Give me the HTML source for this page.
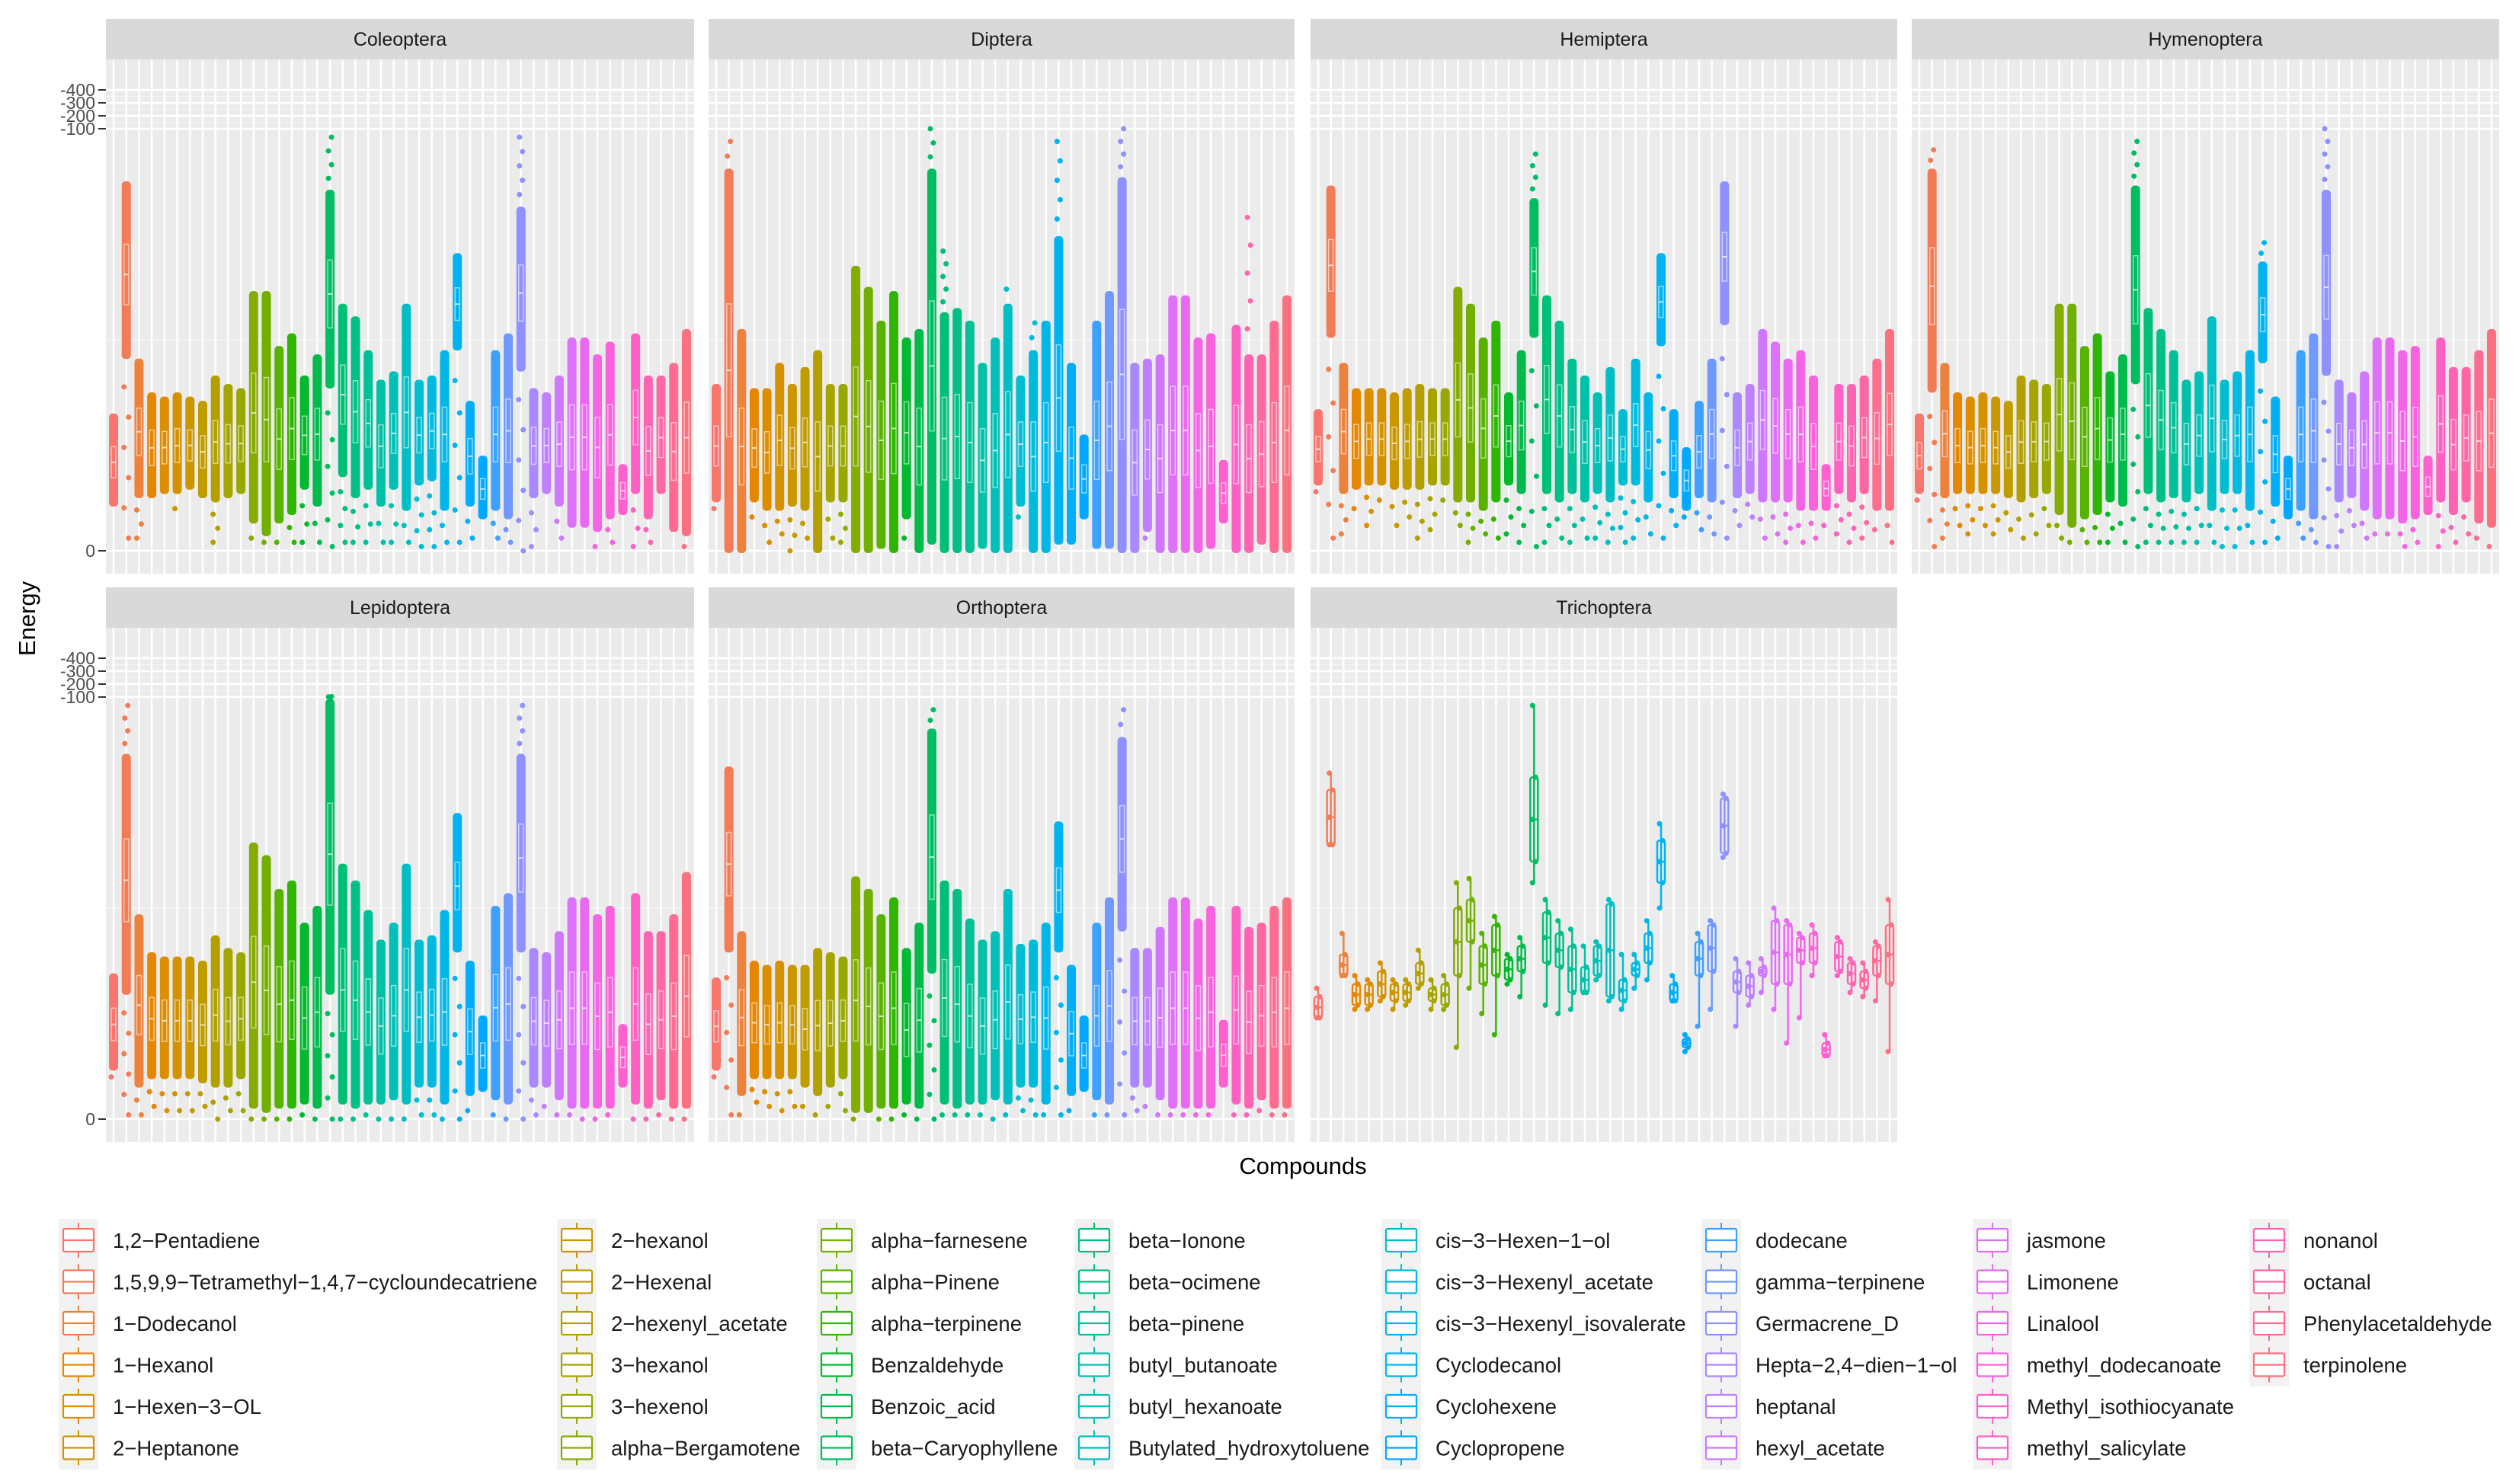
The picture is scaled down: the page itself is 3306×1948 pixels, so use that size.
<!DOCTYPE html>
<html><head><meta charset="utf-8"><style>
html,body{margin:0;padding:0;background:#fff;}
svg{display:block;font-family:"Liberation Sans",Arial,sans-serif;}
</style></head><body>
<svg id="chart" xmlns="http://www.w3.org/2000/svg" width="3306" height="1948" viewBox="0 0 3306 1948">
<rect width="3306" height="1948" fill="#ffffff"/>
<g id="panels"></g>
<g id="yaxes"></g>
<text x="0" y="0" transform="translate(46,812) rotate(-90)" text-anchor="middle" font-size="31" fill="#000">Energy</text>
<text x="1710" y="1541" text-anchor="middle" font-size="31" fill="#000">Compounds</text>
<g id="legend"></g>
</svg>
<script>
const compounds = ["1,2−Pentadiene","1,5,9,9−Tetramethyl−1,4,7−cycloundecatriene","1−Dodecanol","1−Hexanol","1−Hexen−3−OL","2−Heptanone",
"2−hexanol","2−Hexenal","2−hexenyl_acetate","3−hexanol","3−hexenol","alpha−Bergamotene",
"alpha−farnesene","alpha−Pinene","alpha−terpinene","Benzaldehyde","Benzoic_acid","beta−Caryophyllene",
"beta−Ionone","beta−ocimene","beta−pinene","butyl_butanoate","butyl_hexanoate","Butylated_hydroxytoluene",
"cis−3−Hexen−1−ol","cis−3−Hexenyl_acetate","cis−3−Hexenyl_isovalerate","Cyclodecanol","Cyclohexene","Cyclopropene",
"dodecane","gamma−terpinene","Germacrene_D","Hepta−2,4−dien−1−ol","heptanal","hexyl_acetate",
"jasmone","Limonene","Linalool","methyl_dodecanoate","Methyl_isothiocyanate","methyl_salicylate",
"nonanol","octanal","Phenylacetaldehyde","terpinolene"];
const yTicks = [400,300,200,100,0];
const yTickLabels = ["-400","-300","-200","-100","0"];

const coleopteraHi = [32,87,45,37,36,37,36,35,41,39,38,61,61,48,51,41,46,98,58,55,47,40,42,58,40,41,47,70,35,22,47,51,98,38,37,41,50,50,46,49,20,51,41,41,44,52];
const coleopteraTop = [32,87,45,37,36,37,36,35,41,39,38,61,61,48,51,41,46,85,58,55,47,40,42,58,40,41,47,70,35,22,47,51,81,38,37,41,50,50,46,49,20,51,41,41,44,52];
const coleopteraBot = [11,46,13,13,14,14,15,13,12,13,14,7,4,7,9,15,11,39,18,13,15,11,15,10,16,17,10,48,11,8,10,8,43,13,14,11,6,6,5,8,9,14,8,14,5,4];
const coleopteraMin = [11,3,3,13,14,10,15,13,2,13,14,3,2,2,2,2,2,1,2,2,2,2,2,2,1,1,2,2,3,8,3,2,0,1,14,3,6,6,1,2,9,1,2,14,5,1];

const dipteraHi = [39,97,52,38,38,44,39,43,47,39,39,67,62,54,61,50,52,100,71,57,54,44,50,62,41,54,54,97,44,27,54,61,100,44,45,46,60,60,50,51,21,53,79,46,54,60];
const dipteraTop = [39,90,52,38,38,44,39,43,47,39,39,67,62,54,61,50,52,90,56,57,54,44,50,58,41,47,54,74,44,27,54,61,88,44,45,46,60,60,50,51,21,53,46,46,54,60];
const dipteraBot = [12,0,0,12,10,10,11,10,0,12,12,0,0,1,0,8,0,2,0,0,0,1,0,0,11,0,0,2,2,8,1,1,0,0,5,0,0,0,0,1,7,0,0,2,0,0];
const dipteraMin = [10,0,0,8,2,4,0,3,0,3,2,0,0,1,0,3,0,2,0,0,0,1,0,0,8,0,0,2,2,8,1,1,0,0,3,0,0,0,0,1,7,0,0,2,0,0];

const hemipteraHi = [33,86,44,38,38,38,37,38,39,38,38,62,58,50,54,37,47,94,60,54,45,41,37,43,33,45,37,70,33,24,35,45,87,37,39,52,49,45,47,41,20,39,39,41,45,52];
const hemipteraTop = [33,86,44,38,38,38,37,38,39,38,38,62,58,50,54,37,47,83,60,54,45,41,37,43,33,45,37,70,33,24,35,45,87,37,39,52,49,45,47,41,20,39,39,41,45,52];
const hemipteraBot = [16,51,14,15,16,16,15,15,15,16,16,12,12,10,12,16,14,51,14,12,14,12,14,12,16,16,12,49,13,10,13,12,54,13,14,12,12,12,10,10,10,14,12,14,10,10];
const hemipteraMin = [14,3,4,10,6,12,6,8,3,5,12,6,2,4,3,4,2,1,2,3,2,3,3,2,2,3,4,3,6,8,5,4,3,6,8,3,4,2,2,3,6,4,2,3,5,2];

const hymenopteraHi = [32,95,44,37,36,37,36,35,41,40,39,58,58,48,51,42,46,97,57,52,47,40,42,55,40,42,47,73,36,22,47,51,100,40,37,42,50,50,47,48,22,50,43,43,47,52];
const hymenopteraTop = [32,90,44,37,36,37,36,35,41,40,39,58,58,48,51,42,46,86,57,52,47,40,42,55,40,42,47,68,36,22,47,51,85,40,37,42,50,50,47,48,22,50,43,43,47,52];
const hymenopteraBot = [14,38,13,14,14,14,14,13,12,13,14,9,6,8,9,12,11,40,14,12,13,12,14,10,14,14,10,45,11,8,10,8,42,12,13,10,8,8,7,8,9,12,9,12,7,6];
const hymenopteraMin = [12,1,3,6,4,6,4,5,3,4,6,3,2,2,2,2,2,1,2,2,2,2,2,2,1,1,2,2,3,8,3,2,1,1,6,3,4,4,1,2,8,1,2,4,3,1];

const lepidopteraHi = [34,98,48,39,38,38,38,37,43,40,39,65,62,54,56,46,50,104,60,56,49,42,46,60,42,43,49,72,37,24,50,53,98,40,39,44,52,52,48,50,22,53,44,44,48,58];
const lepidopteraTop = [34,86,48,39,38,38,38,37,43,40,39,65,62,54,56,46,50,99,60,56,49,42,46,60,42,43,49,72,37,24,50,53,86,40,39,44,52,52,48,50,22,53,44,44,48,58];
const lepidopteraBot = [12,30,8,10,10,10,10,9,8,8,10,3,2,3,3,4,3,30,4,3,4,4,5,4,8,8,4,40,6,7,5,4,40,8,8,5,3,3,3,3,8,4,3,5,3,3];
const lepidopteraMin = [10,1,1,3,2,2,2,3,0,2,2,0,0,0,0,1,0,0,0,0,1,0,0,0,1,1,0,0,2,7,1,0,0,1,3,1,1,0,0,1,7,0,0,1,0,0];

const orthopteraHi = [33,83,44,37,36,37,36,36,40,39,38,57,54,48,52,40,46,97,56,54,47,42,44,54,41,42,46,70,36,24,46,52,97,40,40,45,52,52,47,50,23,50,45,46,50,52];
const orthopteraTop = [33,83,44,37,36,37,36,36,40,39,38,57,54,48,52,40,46,92,56,54,47,42,44,54,41,42,46,70,36,24,46,52,90,40,40,45,52,52,47,50,23,50,45,46,50,52];
const orthopteraBot = [12,40,6,10,10,10,10,8,6,8,10,2,2,3,3,4,3,35,4,3,4,4,5,4,8,8,4,40,6,7,5,4,45,8,8,5,3,3,3,3,8,4,3,5,3,3];
const orthopteraMin = [10,1,1,4,3,2,3,3,1,3,2,0,1,0,0,1,0,0,1,1,1,1,0,1,2,1,1,1,2,7,1,1,1,2,3,1,1,1,1,1,7,1,1,2,1,1];

const trichopteraHi = [31,82,44,34,33,37,33,33,40,33,34,56,57,44,48,39,43,98,52,47,45,41,42,52,39,39,47,70,34,20,44,47,77,38,37,38,50,47,44,46,20,43,38,37,42,52];
const trichopteraQ3 = [29,78,39,32,32,35,32,32,37,31,32,50,52,41,46,38,41,81,49,44,41,36,41,51,33,37,44,66,32,19,42,46,76,35,34,36,47,46,43,44,18,42,37,35,41,46];
const trichopteraQ1 = [24,65,34,27,27,29,28,28,32,28,27,34,42,32,34,33,35,61,37,36,30,30,34,29,28,34,37,56,28,17,34,35,63,30,29,34,32,32,37,37,15,35,32,31,34,32];
const trichopteraLo = [24,65,34,26,26,28,26,27,31,26,26,17,31,25,20,32,29,56,27,25,26,30,33,28,26,31,33,50,28,16,22,26,62,22,27,30,26,18,24,34,15,34,30,29,28,16];

const panels = [
 {name:"Coleoptera", x0:139, x1:911, row:0, hi:coleopteraHi, top:coleopteraTop, bot:coleopteraBot, min:coleopteraMin},
 {name:"Diptera", x0:930, x1:1699, row:0, hi:dipteraHi, top:dipteraTop, bot:dipteraBot, min:dipteraMin},
 {name:"Hemiptera", x0:1720, x1:2490, row:0, hi:hemipteraHi, top:hemipteraTop, bot:hemipteraBot, min:hemipteraMin},
 {name:"Hymenoptera", x0:2509, x1:3280, row:0, hi:hymenopteraHi, top:hymenopteraTop, bot:hymenopteraBot, min:hymenopteraMin},
 {name:"Lepidoptera", x0:139, x1:911, row:1, hi:lepidopteraHi, top:lepidopteraTop, bot:lepidopteraBot, min:lepidopteraMin},
 {name:"Orthoptera", x0:930, x1:1699, row:1, hi:orthopteraHi, top:orthopteraTop, bot:orthopteraBot, min:orthopteraMin},
 {name:"Trichoptera", x0:1720, x1:2490, row:1, box:true}
];

const NS = "http://www.w3.org/2000/svg";
function mk(tag, attrs, parent){ const e=document.createElementNS(NS,tag); for(const k in attrs) e.setAttribute(k,attrs[k]); if(parent) parent.appendChild(e); return e; }

function hcl(h,c,l){
  const Xn=95.047,Yn=100,Zn=108.883;
  const un=4*Xn/(Xn+15*Yn+3*Zn), vn=9*Yn/(Xn+15*Yn+3*Zn);
  const hr=h*Math.PI/180, U=c*Math.cos(hr), V=c*Math.sin(hr);
  const Y = l>8 ? Yn*Math.pow((l+16)/116,3) : Yn*l/903.3;
  const up=U/(13*l)+un, vp=V/(13*l)+vn;
  const X=9*Y*up/(4*vp), Z=-X/3-5*Y+3*Y/vp;
  const x=X/100,y=Y/100,z=Z/100;
  let r= 3.2404542*x-1.5371385*y-0.4985314*z;
  let g=-0.9692660*x+1.8760108*y+0.0415560*z;
  let b= 0.0556434*x-0.2040259*y+1.0572252*z;
  const gam=v=>{v=v<=0.0031308?12.92*v:1.055*Math.pow(v,1/2.4)-0.055;return Math.round(Math.max(0,Math.min(1,v))*255);};
  return "rgb("+gam(r)+","+gam(g)+","+gam(b)+")";
}
const N = compounds.length;
const colors = compounds.map((_,i)=>hcl(15+360*i/N,100,65));

const rowZero=[723,1469], rowTop=[78,824], rowBot=[753,1499], stripTop=[25,771];
function yOff(v){ return v<=100 ? v*5.54 : 554+(v-100)*0.17; }
function yScale(v,row){ return rowZero[row]-yOff(v); }
function xScale(i,p){ const unit=(p.x1-p.x0)/(N-1+1.2); return p.x0+(i+0.6)*unit; }

const gP=document.getElementById("panels");
panels.forEach(p=>{
  const g=mk("g",{},gP);
  
  
  const strip=mk("rect",{x:p.x0,y:stripTop[p.row],width:p.x1-p.x0,height:rowTop[p.row]-stripTop[p.row],fill:"#d9d9d9"},g);
  
  
  const st=mk("text",{x:(p.x0+p.x1)/2,y:stripTop[p.row]+35,"text-anchor":"middle","font-size":"25",fill:"#1a1a1a"},g);
  st.textContent=p.name;
  
  
  const bg=mk("rect",{x:p.x0,y:rowTop[p.row],width:p.x1-p.x0,height:rowBot[p.row]-rowTop[p.row],fill:"#ebebeb"},g);
  
  
  [350,250,150,50].forEach(v=>{ mk("line",{x1:p.x0,x2:p.x1,y1:yScale(v,p.row),y2:yScale(v,p.row),stroke:"#f5f5f5","stroke-width":1.3},g); });
  yTicks.forEach(v=>{ mk("line",{x1:p.x0,x2:p.x1,y1:yScale(v,p.row),y2:yScale(v,p.row),stroke:"#fff","stroke-width":2.5},g); });
  for(let i=0;i<N;i++){ const x=xScale(i,p); mk("line",{x1:x,x2:x,y1:rowTop[p.row],y2:rowBot[p.row],stroke:"#fff","stroke-width":2.5},g); }
  for(let i=0;i<N;i++){
    const x=xScale(i,p), col=colors[i];
    const gc=mk("g",{},g);
    
    
    if(p.box){
      const hi=trichopteraHi[i], q3=trichopteraQ3[i], q1=trichopteraQ1[i], lo=trichopteraLo[i];
      mk("line",{x1:x,x2:x,y1:yScale(hi,p.row),y2:yScale(lo,p.row),stroke:col,"stroke-width":2.5},gc);
      mk("rect",{x:x-5,y:yScale(q3,p.row),width:10,height:Math.max(2,yScale(q1,p.row)-yScale(q3,p.row)),fill:"none",stroke:col,"stroke-width":2.5,rx:3},gc);
      const med=(q1+q3)/2;
      mk("line",{x1:x-5,x2:x+5,y1:yScale(med,p.row),y2:yScale(med,p.row),stroke:col,"stroke-width":2.5},gc);
      [hi,q3,med,q1,lo].forEach((v,k)=>{ mk("circle",{cx:x+(k%2?2:-2),cy:yScale(v,p.row),r:3.5,fill:col},gc); });
    } else {
      const hi=p.hi[i], top=p.top[i], bot=p.bot[i], mn=p.min[i];
      const yt=yScale(top,p.row), yb=yScale(bot,p.row);
      mk("rect",{x:x-6,y:yt-3,width:12,height:Math.max(4,yb-yt+6),rx:5,fill:col},gc);
      const nTail=Math.min(6,Math.round((bot-mn)/4));
      for(let k=1;k<=nTail;k++){ const v=bot-(bot-mn)*k/nTail; mk("circle",{cx:x+(k%2?-3:3),cy:yScale(v,p.row),r:3.5,fill:col},gc); }
      const nUp=Math.min(5,Math.round((hi-top)/3));
      for(let k=1;k<=nUp;k++){ const v=top+(hi-top)*k/nUp; mk("circle",{cx:x+(k%2?-2:2),cy:yScale(v,p.row),r:3.5,fill:col},gc); }
      const q1=bot+(top-bot)*0.3, q3=bot+(top-bot)*0.65, med=(q1+q3)/2;
      mk("rect",{x:x-3,y:yScale(q3,p.row),width:6,height:yScale(q1,p.row)-yScale(q3,p.row),fill:"none",stroke:"#fff","stroke-opacity":0.55,"stroke-width":1.5},gc);
      mk("line",{x1:x-3,x2:x+3,y1:yScale(med,p.row),y2:yScale(med,p.row),stroke:"#fff","stroke-opacity":0.7,"stroke-width":2},gc);
    }
  }
});

const gY=document.getElementById("yaxes");
[0,1].forEach(row=>{
  const ga=mk("g",{},gY);
  
  
  yTicks.forEach((v,k)=>{
    const y=yScale(v,row);
    mk("line",{x1:129,x2:139,y1:y,y2:y,stroke:"#333","stroke-width":2},ga);
    const t=mk("text",{x:125,y:y+8,"text-anchor":"end","font-size":"23",fill:"#4d4d4d"},ga);
    t.textContent=yTickLabels[k];
    
    
  });
});

const gL=document.getElementById("legend");
const colX=[77,731,1072,1410,1813,2233,2589,2952];
const rowY0=1628, rowStep=54.5;
for(let c=0;c<8;c++){
  const nRows=Math.min(6,N-c*6);
  mk("rect",{x:colX[c],y:rowY0-28,width:52,height:nRows*rowStep+2,fill:"#f2f2f2"},gL);
}
compounds.forEach((name,i)=>{
  const c=Math.floor(i/6), r=i%6, col=colors[i];
  const cx=colX[c]+26, cy=rowY0+r*rowStep;
  const ge=mk("g",{},gL);
  
  
  mk("line",{x1:cx,x2:cx,y1:cy-23,y2:cy+23,stroke:col,"stroke-width":2},ge);
  mk("rect",{x:cx-20,y:cy-15,width:40,height:30,fill:"#fff",stroke:col,"stroke-width":2.2,rx:2},ge);
  mk("line",{x1:cx-20,x2:cx+20,y1:cy,y2:cy,stroke:col,"stroke-width":2.2},ge);
  const t=mk("text",{x:colX[c]+71,y:cy+10,"font-size":"27.5",fill:"#1a1a1a"},ge);
  t.textContent=name;
});
</script>
</body></html>
